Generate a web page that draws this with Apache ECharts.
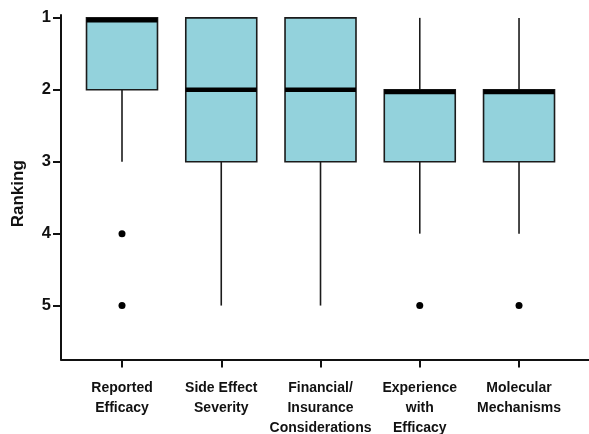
<!DOCTYPE html>
<html>
<head>
<meta charset="utf-8">
<script src="https://cdn.jsdelivr.net/npm/echarts@6/dist/echarts.min.js"></script>
<style>
  html, body { margin: 0; padding: 0; background: #fff; }
  #chart { width: 589px; height: 434px; }
</style>
</head>
<body>
<div id="chart"></div>
<script>
// Ranking factors: five-number summaries per category (1 = most important)
const categories = ['Reported\nEfficacy', 'Side Effect\nSeverity', 'Financial/\nInsurance\nConsiderations', 'Experience\nwith\nEfficacy', 'Molecular\nMechanisms'];
const whiskerLow = [1, 1, 1, 1, 1];   // best rank reached by whisker
const q1 = [1, 1, 1, 2, 2];
const median = [1, 2, 2, 2, 2];
const q3 = [2, 3, 3, 3, 3];
const whiskerHigh = [3, 5, 5, 4, 4];
// outliers as [category index, rank]
const outliers = [[0, 4], [0, 5], [3, 5], [4, 5]];
const yTicks = [1, 2, 3, 4, 5];

const positions = categories.map((_, i) => i + 1);
const boxData = categories.map((_, i) => [positions[i], whiskerLow[i], q1[i], median[i], q3[i], whiskerHigh[i]]);
const outlierData = outliers.map(o => [positions[o[0]], o[1]]);

const FILL = '#93d2dc';
const INK = '#1b1b1b';
const BOX_W = 0.715;

function renderBox(params, api) {
  const x = api.value(0);
  const pLow = api.coord([x, api.value(1)]);
  const pQ1 = api.coord([x, api.value(2)]);
  const pMed = api.coord([x, api.value(3)]);
  const pQ3 = api.coord([x, api.value(4)]);
  const pHigh = api.coord([x, api.value(5)]);
  const w = api.size([BOX_W, 0])[0];
  const left = pQ1[0] - w / 2;
  const top = Math.min(pQ1[1], pQ3[1]);
  const bottom = Math.max(pQ1[1], pQ3[1]);
  // thick median bar, kept inside the box
  const medH = 4.5;
  let medY = pMed[1] - medH / 2;
  medY = Math.max(top, Math.min(bottom - medH, medY));
  const children = [];
  if (Math.abs(pLow[1] - top) > 0.5) {
    children.push({ type: 'line', shape: { x1: pLow[0], y1: pLow[1], x2: pLow[0], y2: top }, style: { stroke: INK, lineWidth: 1.6 } });
  }
  if (Math.abs(pHigh[1] - bottom) > 0.5) {
    children.push({ type: 'line', shape: { x1: pHigh[0], y1: bottom, x2: pHigh[0], y2: pHigh[1] }, style: { stroke: INK, lineWidth: 1.6 } });
  }
  children.push({ type: 'rect', shape: { x: left, y: top, width: w, height: bottom - top }, style: { fill: FILL, stroke: INK, lineWidth: 1.6 } });
  children.push({ type: 'rect', shape: { x: left, y: medY, width: w, height: medH }, style: { fill: '#000' } });
  return { type: 'group', children };
}

const chart = echarts.init(document.getElementById('chart'), null, { renderer: 'canvas' });
chart.setOption({
  animation: false,
  backgroundColor: '#fff',
  grid: { left: 61, right: 0, top: 15, bottom: 74.5, containLabel: false, outerBoundsMode: 'none' },
  xAxis: {
    type: 'value',
    min: 0.3854,
    max: 5.705,
    splitLine: { show: false },
    axisLine: { show: true, lineStyle: { color: '#111', width: 2 } },
    axisTick: { show: true, customValues: positions, length: 8, lineStyle: { color: '#111', width: 2 } },
    axisLabel: {
      customValues: positions,
      margin: 19,
      formatter: v => categories[Math.round(v) - 1] || '',
      fontFamily: '"Liberation Sans Narrow", "Arial Narrow", "Liberation Sans", Arial, sans-serif',
      fontWeight: 'bold',
      fontSize: 14,
      lineHeight: 20,
      color: '#111',
      align: 'center'
    }
  },
  yAxis: {
    type: 'value',
    inverse: true,
    min: 0.96,
    max: 5.75,
    splitLine: { show: false },
    axisLine: { show: true, lineStyle: { color: '#111', width: 2 } },
    axisTick: { show: true, customValues: yTicks, length: 8, lineStyle: { color: '#111', width: 2 } },
    axisLabel: {
      customValues: yTicks,
      margin: 10,
      fontFamily: '"Liberation Sans", Arial, sans-serif',
      fontWeight: 'bold',
      fontSize: 16.5,
      color: '#111'
    },
    name: 'Ranking',
    nameLocation: 'middle',
    nameRotate: 90,
    nameGap: 34,
    nameTextStyle: {
      fontFamily: '"Liberation Sans", Arial, sans-serif',
      fontWeight: 'bold',
      fontSize: 17,
      color: '#111',
      padding: [0, 13, 0, 0]
    }
  },
  series: [
    {
      type: 'custom',
      renderItem: renderBox,
      data: boxData,
      encode: { x: 0, y: [1, 2, 3, 4, 5] },
      clip: false,
      z: 2
    },
    {
      type: 'scatter',
      data: outlierData,
      symbol: 'circle',
      symbolSize: 7,
      itemStyle: { color: '#000', opacity: 1 },
      z: 3
    }
  ]
});
</script>
</body>
</html>
